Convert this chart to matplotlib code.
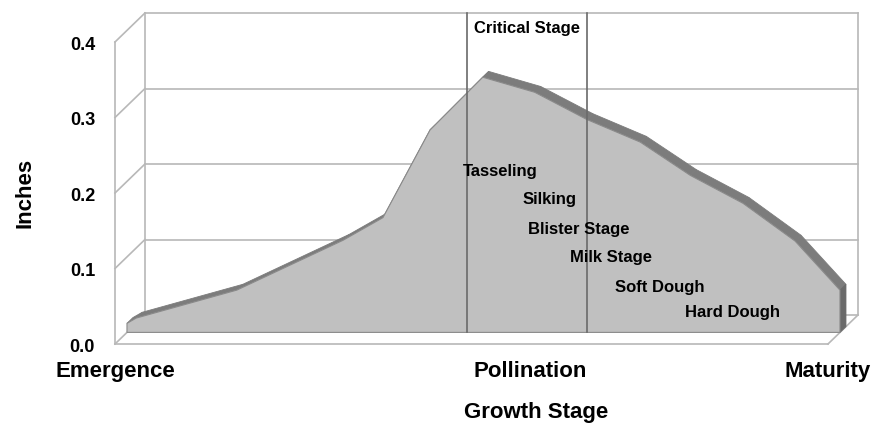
import matplotlib.pyplot as plt
from matplotlib.patches import Polygon

plt.rcParams['font.family'] = ['Liberation Sans', 'DejaVu Sans']
plt.rcParams['font.weight'] = 'bold'

# water use curve (position along the season, 0 = emergence, 100 = maturity)
stage_pos = [0, 1.3, 15.4, 30.3, 35.9, 42.5, 49.9, 57.2, 64.5, 72.0, 79.0, 86.4, 93.7, 100]
inches = [0.012, 0.019, 0.056, 0.122, 0.152, 0.268, 0.338, 0.318, 0.282, 0.252,
          0.208, 0.171, 0.121, 0.056]

yticks = [0.0, 0.1, 0.2, 0.3, 0.4]
cat_labels = ['Emergence', 'Pollination', 'Maturity']
cat_pos = [0, 58.2, 100]

critical_lines = [47.7, 64.5]
stage_labels = ['Tasseling', 'Silking', 'Blister Stage', 'Milk Stage', 'Soft Dough', 'Hard Dough']
stage_label_x = [48.8, 57.1, 57.9, 63.8, 70.1, 79.9]
stage_label_y = [0.228, 0.191, 0.152, 0.114, 0.075, 0.042]

# depth offset for the fake 3D look (full depth), in data units
DX, DY = 4.2, 0.0384


def shift(x, y, z):
    return x + z * DX, y + z * DY


fig = plt.figure(figsize=(8.74, 4.25), dpi=100)
ax = fig.add_axes([115 / 874, 81 / 425, 713 / 874, 302 / 425])
ax.set_xlim(0, 100)
ax.set_ylim(0, 0.4)
ax.axis('off')

wall = '#b8b8b8'

# back wall
for v in yticks:
    xs, ys = zip(shift(0, v, 1), shift(100, v, 1))
    ax.plot(xs, ys, color=wall, lw=1.2, zorder=1, clip_on=False)
    # side wall diagonals
    xs, ys = zip(shift(0, v, 0), shift(0, v, 1))
    ax.plot(xs, ys, color=wall, lw=1.2, zorder=1, clip_on=False)
for x in [0, 100]:
    xs, ys = zip(shift(x, 0, 1), shift(x, 0.4, 1))
    ax.plot(xs, ys, color=wall, lw=1.2, zorder=1, clip_on=False)

# front axis line and floor
ax.plot([0, 0], [0, 0.4], color=wall, lw=1.2, zorder=1, clip_on=False)
ax.plot([0, 100], [0, 0], color=wall, lw=1.2, zorder=1, clip_on=False)
xs, ys = zip(shift(100, 0, 0), shift(100, 0, 1))
ax.plot(xs, ys, color=wall, lw=1.2, zorder=1, clip_on=False)

# area: front at depth 0.4, back at depth 0.6
zf, zb = 0.4, 0.6
for i in range(len(stage_pos) - 1):
    pts = [shift(stage_pos[i], inches[i], zf), shift(stage_pos[i + 1], inches[i + 1], zf),
           shift(stage_pos[i + 1], inches[i + 1], zb), shift(stage_pos[i], inches[i], zb)]
    ax.add_patch(Polygon(pts, closed=True, facecolor='#7c7c7c', edgecolor='#7c7c7c',
                         lw=0.6, zorder=2, clip_on=False))
side = [shift(stage_pos[-1], 0, zf), shift(stage_pos[-1], inches[-1], zf),
        shift(stage_pos[-1], inches[-1], zb), shift(stage_pos[-1], 0, zb)]
ax.add_patch(Polygon(side, closed=True, facecolor='#6a6a6a', edgecolor='#6a6a6a',
                     lw=0.6, zorder=2, clip_on=False))

front = [shift(x, y, zf) for x, y in zip(stage_pos, inches)]
front = [shift(stage_pos[0], 0, zf)] + front + [shift(stage_pos[-1], 0, zf)]
ax.add_patch(Polygon(front, closed=True, facecolor='#c0c0c0', edgecolor='#8a8a8a',
                     lw=0.8, zorder=3, clip_on=False))

# critical stage lines
for x in critical_lines:
    ax.plot([x + zf * DX] * 2, [zf * DY, 0.4 + DY], color='#6a6a6a', lw=1.2, zorder=4,
            clip_on=False)

ax.text(sum(critical_lines) / 2 + zf * DX, 0.4 + DY - 0.01, 'Critical Stage', ha='center',
        va='top', fontsize=12, zorder=5)
for name, x, y in zip(stage_labels, stage_label_x, stage_label_y):
    ax.text(x, y, name, ha='left', va='center', fontsize=12, zorder=5)

# tick labels
for v in yticks:
    ax.text(-2.8, v - 0.004, f'{v:.1f}', ha='right', va='center', fontsize=13)
for name, x in zip(cat_labels, cat_pos):
    ax.text(x, -0.037, name, ha='center', va='center', fontsize=16)

ax.text(59, -0.091, 'Growth Stage', ha='center', va='center', fontsize=16)
ax.text(-12.6, 0.2, 'Inches', ha='center', va='center', rotation=90, fontsize=16)

fig.savefig('out.png', dpi=100)
